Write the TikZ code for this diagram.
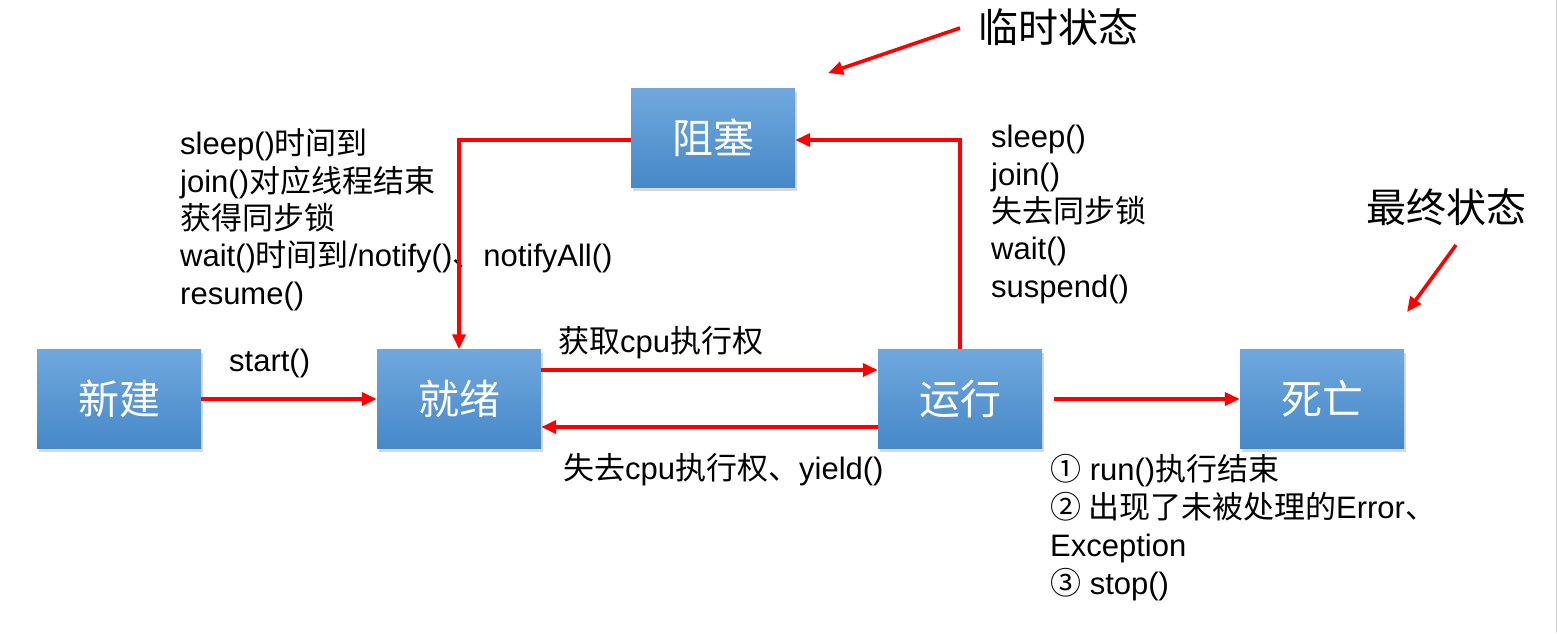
\documentclass[tikz,border=0pt]{standalone}
\usepackage{fontspec}
\setmainfont{Liberation Sans}
\newfontfamily\cjk{Noto Sans CJK SC}
\newcommand\zh[1]{{\cjk #1}}
\usetikzlibrary{arrows.meta,shadows}
\begin{document}
\begin{tikzpicture}[x=1pt,y=-1pt,
  state/.style={rectangle, minimum width=164pt, minimum height=99pt, inner sep=0pt,
    top color={rgb,255:red,112;green,168;blue,222}, bottom color={rgb,255:red,70;green,136;blue,200},
    text=white, font=\fontsize{41}{41}\selectfont\cjk,
    drop shadow={shadow xshift=2pt, shadow yshift=-3pt, opacity=0.3}},
  redarrow/.style={draw={rgb,255:red,255;green,0;blue,0}, line width=3.6pt,
    -{Triangle[length=15pt,width=13pt]}},
  lbl/.style={inner sep=0pt, anchor=base west, font=\fontsize{31}{37.3}\selectfont},
  lst/.style={inner sep=0pt, anchor=base west, align=left, font=\fontsize{31}{37.3}\selectfont},
  big/.style={inner sep=0pt, anchor=west, font=\fontsize{40}{40}\selectfont\cjk}]
\useasboundingbox (0,0) rectangle (1557,633);
\fill[white] (0,0) rectangle (1557,633);
\draw[line width=1pt, color={rgb,255:red,215;green,215;blue,215}] (1556,0) -- (1556,633);

% state boxes
\node[state] (new)   at (119,399) {新建};
\node[state] (ready) at (459,399) {就绪};
\node[state] (run)   at (960,399) {运行};
\node[state] (dead)  at (1322,399) {死亡};
\node[state] (block) at (713,138) {阻塞};

% labels (base anchor = baseline of the last line)
\node[lst] (lleft) at (180,304) {sleep()\zh{时间到}\\join()\zh{对应线程结束}\\\zh{获得同步锁}\\wait()\zh{时间到}/notify()\zh{、}notifyAll()\\resume()};
\node[lst] (lright) at (991,297) {sleep()\\join()\\\zh{失去同步锁}\\wait()\\suspend()};
\node[lst, font=\fontsize{31}{38}\selectfont] (ldead) at (1050,594) {\zh{①} run()\zh{执行结束}\\\zh{② 出现了未被处理的}Error\zh{、}\\Exception\\\zh{③} stop()};
\node[lbl] (lstart) at (229,371) {start()};
\node[lbl] (lget) at (558,352) {\zh{获取}cpu\zh{执行权}};
\node[lbl] (llose) at (563,479) {\zh{失去}cpu\zh{执行权、}yield()};
\node[big] (ltemp) at (978,27) {临时状态};
\node[big] (lfinal) at (1366,207) {最终状态};

% connectors
\coordinate (tmpS) at (960,28);
\coordinate (tmpE) at (828,73);
\coordinate (finS) at (1456,245);
\coordinate (finE) at (1407,312);
\draw[redarrow] (new.east) -- (ready.west);
\draw[redarrow] (ready.east |- 0,370) -- (run.west |- 0,370);
\draw[redarrow] (run.west |- 0,427) -- (ready.east |- 0,427);
\draw[redarrow] (run.north) -- (run.north |- 0,140) -- (block.east |- 0,140);
\draw[redarrow] (block.west |- 0,140) -- (ready.north |- 0,140) -- (ready.north);
\draw[redarrow] ([xshift=12pt]run.east) -- (dead.west);
\draw[redarrow] (tmpS) -- (tmpE);
\draw[redarrow] (finS) -- (finE);
\end{tikzpicture}
\end{document}
